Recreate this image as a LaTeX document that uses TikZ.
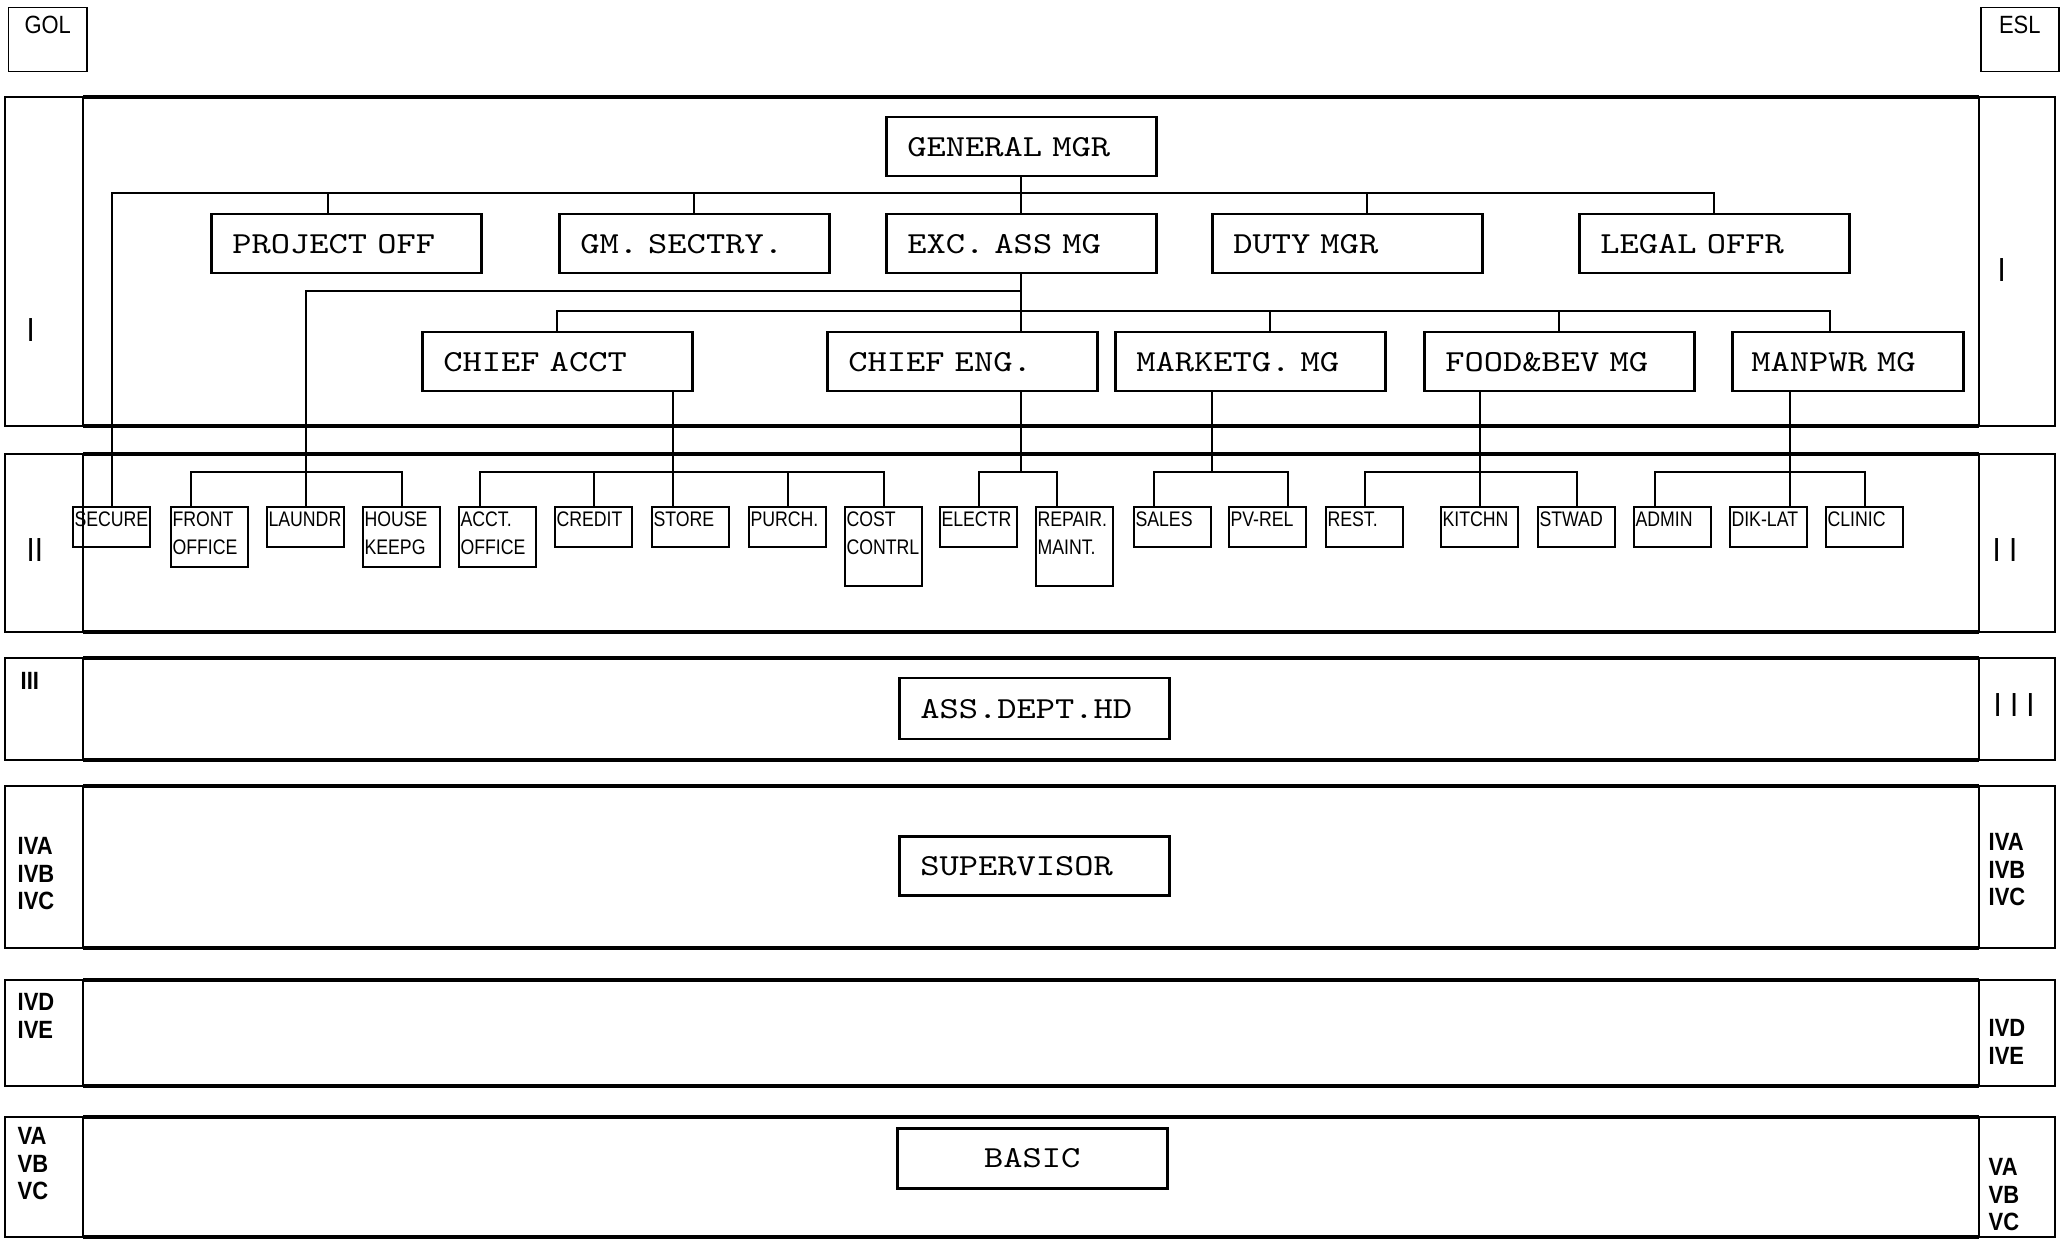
\documentclass[tikz,border=0pt]{standalone}
\usepackage{fontspec}
\setmainfont{Liberation Sans}
\newfontfamily\narrowfont{Liberation Sans}[FakeStretch=0.88]
\newfontfamily\cellfont{Liberation Sans}[FakeStretch=0.84]
\newfontfamily\typefont{lmmono10-regular.otf}[FakeStretch=1.2, WordSpace=1.2]
\newcommand{\celltext}[2]{\parbox[t][#1][t]{7.4mm}{#2}}

\begin{document}
\begin{tikzpicture}[x=0.1mm, y=-0.1mm,
  band/.style={line width=0.35mm},
  side/.style={line width=0.15mm},
  link/.style={line width=0.2mm},
  post/.style={draw, line width=0.25mm, anchor=north west, minimum height=5.9mm,
    text width=22.8mm, inner xsep=2.1mm, align=left,
    font=\typefont\frenchspacing\fontsize{8.7}{10}\selectfont},
  cell/.style={draw, line width=0.2mm, anchor=north west, inner xsep=0.15mm,
    inner ysep=0.5mm, font=\cellfont\fontsize{6}{8}\selectfont},
  tier/.style={anchor=north west, inner sep=0pt, align=left,
    font=\narrowfont\bfseries\fontsize{7.1}{7.8}\selectfont},
  roman/.style={anchor=north west, inner sep=0pt,
    font=\narrowfont\fontsize{9.5}{11}\selectfont},
  tag/.style={draw, line width=0.15mm, anchor=north west, minimum width=7.8mm,
    inner ysep=0.8mm, text height=1.8mm, text depth=3mm,
    font=\narrowfont\fontsize{7.1}{8}\selectfont}]

\useasboundingbox (0,0) rectangle (2062,1241);

% grade bands
\foreach \top/\bot in {97/426, 454/632, 658/760, 786/948, 980/1086, 1117/1237} {
  \draw[side] (5,\top) rectangle (83,\bot);
  \draw[side] (1979,\top) rectangle (2055,\bot);
  \draw[band] (83,\top) -- (1979,\top) (83,\bot) -- (1979,\bot);
}

\node[tag] (gol) at (8,7) {GOL};
\node[tag] (esl) at (1980,7) {ESL};

% grade labels
\node[roman] (lI) at (26,318) {I};
\node[roman] (rI) at (1997,258) {I};
\node[roman] (lII) at (26,538) {II};
\node[roman] (rII) at (1992,538) {I I};
\node[tier] (lIII) at (20,672) {III};
\node[roman] (rIII) at (1993,693) {I I I};
\node[tier] (lIV) at (17,837) {IVA\\IVB\\IVC};
\node[tier] (rIV) at (1988,833) {IVA\\IVB\\IVC};
\node[tier] (lIVD) at (17,993) {IVD\\IVE};
\node[tier] (rIVD) at (1988,1019) {IVD\\IVE};
\node[tier] (lV) at (17,1127) {VA\\VB\\VC};
\node[tier] (rV) at (1988,1158) {VA\\VB\\VC};

% management
\node[post] (gm) at (885,116) {GENERAL MGR};
\node[post] (proj) at (210,213) {PROJECT OFF};
\node[post] (sec) at (558,213) {GM. SECTRY.};
\node[post] (exc) at (885,213) {EXC. ASS MG};
\node[post] (duty) at (1211,213) {DUTY MGR};
\node[post] (legal) at (1578,213) {LEGAL OFFR};
\node[post] (acct) at (421,331) {CHIEF ACCT};
\node[post] (cheng) at (826,331) {CHIEF ENG.};
\node[post] (market) at (1114,331) {MARKETG. MG};
\node[post] (food) at (1423,331) {FOOD\&BEV MG};
\node[post, text width=19.3mm, inner xsep=1.9mm] (manpwr) at (1731,331) {MANPWR MG};

% departments
\foreach \n/\x/\hh/\lbl in {secure/72/3mm/SECURE, front/170/5mm/{FRONT\\OFFICE},
    laundr/266/3mm/LAUNDR, house/362/5mm/{HOUSE\\KEEPG}, acctoff/458/5mm/{ACCT.\\OFFICE},
    credit/554/3mm/CREDIT, store/651/3mm/STORE, purch/748/3mm/PURCH.,
    cost/844/6.9mm/{COST\\CONTRL}, electr/939/3mm/ELECTR, repair/1035/6.9mm/{REPAIR.\\MAINT.},
    sales/1133/3mm/SALES, pvrel/1228/3mm/PV-REL, rest/1325/3mm/REST.,
    kitchn/1440/3mm/KITCHN, stwad/1537/3mm/STWAD, admin/1633/3mm/ADMIN,
    diklat/1729/3mm/DIK-LAT, clinic/1825/3mm/CLINIC}
  \node[cell] (\n) at (\x,506) {\celltext{\hh}{\lbl}};

\node[post, minimum height=6.1mm] (assdept) at (898,677) {ASS.DEPT.HD};
\node[post] (superv) at (898,835) {SUPERVISOR};
\node[post, minimum height=6mm, align=center] (basic) at (896,1127) {BASIC};

% bus lines
\coordinate (busgm) at (0,193);
\coordinate (busla) at (0,291);
\coordinate (busex) at (0,311);
\coordinate (buslow) at (0,472);

\draw[link] (gm.south) -- (exc.north);
\draw[link] (secure.north) |- (busgm -| legal.north) -- (legal.north);
\draw[link] ([xshift=-1.8mm]proj.north) -- ([xshift=-1.8mm]proj.north |- busgm);
\draw[link] (sec.north) -- (sec.north |- busgm);
\draw[link] ([xshift=2mm]duty.north) -- ([xshift=2mm]duty.north |- busgm);

\draw[link] (exc.south) -- (exc.south |- cheng.north);
\draw[link] (exc.south |- busla) -| (laundr.north);
\draw[link] (acct.north) |- ([xshift=-1.8mm]manpwr.north |- busex) -- ([xshift=-1.8mm]manpwr.north);
\draw[link] ([xshift=2mm]market.north) -- ([xshift=2mm]market.north |- busex);
\draw[link] (food.north) -- (food.north |- busex);

\draw[link] ([xshift=-1.9mm]front.north) |- (buslow -| house.north) -- (house.north);
\draw[link] ([xshift=-1.8mm]store.north) -- ([xshift=-1.8mm]store.north |- acct.south);
\draw[link] ([xshift=-1.8mm]acctoff.north) |- (buslow -| cost.north) -- (cost.north);
\draw[link] (credit.north) -- (credit.north |- buslow);
\draw[link] (purch.north) -- (purch.north |- buslow);
\draw[link] (exc.south |- cheng.south) -- (exc.south |- buslow);
\draw[link] (electr.north) |- ([xshift=-1.8mm]repair.north |- buslow) -- ([xshift=-1.8mm]repair.north);
\draw[link] ([xshift=-3.8mm]market.south) -- ([xshift=-3.8mm]market.south |- buslow);
\draw[link] ([xshift=-1.9mm]sales.north) |- ([xshift=2mm]pvrel.north |- buslow) -- ([xshift=2mm]pvrel.north);
\draw[link] (kitchn.north) -- (kitchn.north |- food.south);
\draw[link] (rest.north) |- (buslow -| stwad.north) -- (stwad.north);
\draw[link] ([xshift=2.1mm]diklat.north) -- ([xshift=2.1mm]diklat.north |- manpwr.south);
\draw[link] ([xshift=-1.8mm]admin.north) |- (buslow -| clinic.north) -- (clinic.north);
\end{tikzpicture}
\end{document}
